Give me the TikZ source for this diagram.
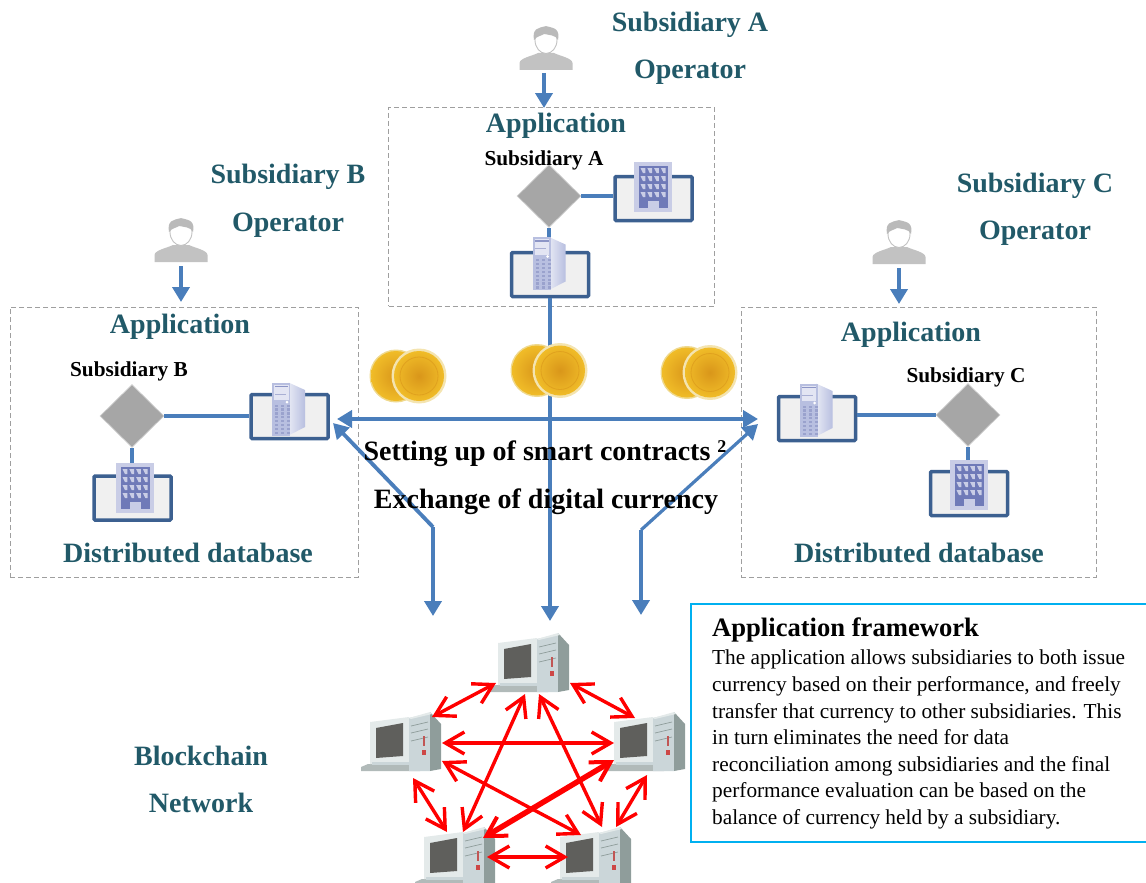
\documentclass[tikz,border=0pt]{standalone}
\usepackage{fontspec}
\setmainfont{Liberation Serif}
\usetikzlibrary{shapes.geometric,arrows.meta}
\definecolor{teal}{HTML}{215968}
\definecolor{flow}{HTML}{4A7EBB}
\definecolor{panelline}{HTML}{3C6090}
\definecolor{bldg}{HTML}{6F7AB8}
\definecolor{bldgpale}{HTML}{C9CDE6}
\definecolor{srv}{HTML}{B8BFE0}
\definecolor{infoline}{HTML}{00B0F0}
\definecolor{goldA}{HTML}{F0BC28}
\definecolor{goldB}{HTML}{D9961A}
\definecolor{goldC}{HTML}{EFD98E}
\definecolor{pcA}{HTML}{CBD6D9}
\definecolor{pcB}{HTML}{8F9D9B}
\definecolor{pcC}{HTML}{E4EAEA}
\definecolor{pcD}{HTML}{5F5F5C}
\tikzset{
  x=1pt,y=-1pt,
  head/.style={font=\bfseries\fontsize{28}{32}\selectfont,text=teal,inner sep=0,yshift=-3pt},
  sublabel/.style={font=\bfseries\fontsize{21.3}{24}\selectfont,inner sep=0,yshift=-2.5pt},
  midlabel/.style={font=\bfseries\fontsize{28}{32}\selectfont,inner sep=0,yshift=-2.5pt},
  dashbox/.style={draw=gray!75,dash pattern=on 5pt off 3pt,line width=1pt,inner sep=0},
  panel/.style={draw=panelline,line width=3.5pt,rounded corners=1pt,fill=black!6,minimum width=77pt,minimum height=44pt,inner sep=0},
  hub/.style={diamond,aspect=1,draw=black!18,line width=.7pt,fill=black!35,minimum width=64pt,minimum height=63pt,inner sep=0},
  link/.style={draw=flow,line width=4pt},
  flowtip/.style={draw=flow,line width=4pt,-{Triangle[length=15pt,width=17pt]}},
  flowtwo/.style={draw=flow,line width=4pt,{Triangle[length=15pt,width=17pt]}-{Triangle[length=15pt,width=17pt]}},
  redlink/.style={draw=red,line width=3.4pt,{Straight Barb[length=19pt,width=22pt,line width=3.4pt]}-{Straight Barb[length=19pt,width=22pt,line width=3.4pt]}},
  redthick/.style={draw=red,line width=5.5pt,{Straight Barb[length=19pt,width=22pt,line width=4pt]}-{Straight Barb[length=19pt,width=22pt,line width=4pt]}},
  person/.pic={
    \fill[black!24] (-26.5,43) -- (-26.5,36) .. controls (-26,31) and (-14,29) .. (-8,26) -- (8,26) .. controls (14,29) and (26,31) .. (26.5,36) -- (26.5,43) -- cycle;
    \draw[black!24,fill=white,line width=.9pt] (0,13) ellipse (11pt and 13.5pt);
    \fill[black!27] (-12,13) .. controls (-14,2) and (-8,0) .. (0,0) .. controls (9,0) and (14,3) .. (12,13) .. controls (10,8) and (3,8) .. (-2,7) .. controls (-5,9) and (-9,9) .. (-12,13) -- cycle;
  },
  building/.pic={
    \fill[bldgpale] (-19,-25) rectangle (19,25);
    \fill[bldg] (-14.5,-21) rectangle (14.5,21);
    \foreach \r in {0,1,2,3}\foreach \c in {0,1,2,3}{
      \fill[bldgpale] (-12.5+\c*6.8,-19+\r*8) -- ++(4.8,0) -- ++(0,5) -- ++(-2.4,0) -- cycle;
    }
    \fill[bldgpale] (-5.5,14) rectangle (5.5,21);
  },
  server/.pic={
    \shade[left color=srv!35,right color=srv] (-2,-26.5) -- (14.5,-19) -- (14.5,18) -- (-2,26.5) -- cycle;
    \fill[srv] (-18.5,-26.5) rectangle (-0.5,26.5);
    \fill[white!60!srv] (-16.5,-24.5) rectangle (-2,-9);
    \fill[bldg!80] (-16,-23.5) rectangle (-2.5,-22);
    \fill[bldg!60] (-16,-15.5) rectangle (-5,-14.5);
    \fill[white] (-3.5,-7) circle (1.5pt);
    \foreach \r in {0,...,7}\foreach \c in {0,1,2}{
      \fill[bldg!70] (-15.5+\c*6,-4.5+\r*3.9) rectangle ++(3,2.2);
    }
  },
  computer/.pic={
    \fill[pcB!70] (-11,48) -- (-4,45) -- (48,45) -- (48,52) -- (-11,52) -- cycle;
    \fill[pcC] (-2,3) -- (37,-2) -- (37,45) -- (-2,45) -- cycle;
    \fill[pcA] (0,43) rectangle (37,46);
    \fill[pcD] (4,9) -- (31,4) -- (31,37) -- (4,39) -- cycle;
    \fill[pcA] (37,-1) -- (58,-6) -- (58,52) -- (37,52) -- cycle;
    \fill[pcB] (58,-7) -- (69,5) -- (69,50) -- (58,52) -- cycle;
    \fill[pcC] (37,-1) -- (58,-7) -- (60,-5) -- (39,0) -- cycle;
    \draw[pcB,line width=.7pt] (39,7) -- (56,3) (39,14) -- (56,10) (39,22) -- (56,18);
    \fill[red!55!pcB] (50,31) rectangle (54,36);
    \fill[red!45!pcB] (51,17) rectangle (53,27);
  },
  coins/.pic={
    \fill[goldC] (0,0) circle (26.5pt);
    \shade[inner color=goldB,outer color=goldA] (0,0) circle (25pt);
    \fill[goldC!70!white] (23,0) circle (27.5pt);
    \shade[inner color=goldB,outer color=goldA] (23,0) circle (25pt);
    \draw[goldB!70!goldA,line width=.8pt] (23,0) circle (19pt);
  }
}
\begin{document}
\begin{tikzpicture}
\useasboundingbox (0,0) rectangle (1146,883);
\clip (0,0) rectangle (1146,883);
% dashed frames
\node[dashbox,minimum width=325.5pt,minimum height=199pt] (frameA) at (551.25,206.5) {};
\node[dashbox,minimum width=348pt,minimum height=270pt] (frameB) at (184,442) {};
\node[dashbox,minimum width=355pt,minimum height=270pt] (frameC) at (918.5,442) {};
% anchors of free ends
\coordinate (pa) at (544,73); \coordinate (pat) at (544,108);
\coordinate (pb) at (181,266); \coordinate (pbt) at (181,302);
\coordinate (pc) at (899,268); \coordinate (pct) at (899,304);
\coordinate (xl) at (337,419); \coordinate (xr) at (758,419);
\coordinate (dl) at (333,423); \coordinate (dle) at (433,527); \coordinate (dlb) at (433,616);
\coordinate (dr) at (758,424); \coordinate (dre) at (641,530); \coordinate (drb) at (641,615);
\coordinate (mb) at (550,621);
% panels and hubs
\node[panel] (panA1) at (653.5,198.5) {};
\node[panel] (panA2) at (550,274.5) {};
\node[hub] (hubA) at (549,196) {};
\node[panel] (panB1) at (289.5,416.5) {};
\node[panel] (panB2) at (132.5,498) {};
\node[hub] (hubB) at (132,416) {};
\node[panel] (panC1) at (817,418.5) {};
\node[panel] (panC2) at (969,493.5) {};
\node[hub] (hubC) at (968,415) {};
% connectors
\draw[link] (hubA.east) -- (hubA.east-|panA1.west);
\draw[link] (hubA.south) -- (hubA.south|-panA2.north);
\draw[link] (hubB.east) -- (hubB.east-|panB1.west);
\draw[link] (hubB.south) -- (hubB.south|-panB2.north);
\draw[link] (hubC.west) -- (hubC.west-|panC1.east);
\draw[link] (hubC.south) -- (hubC.south|-panC2.north);
\draw[flowtip] (pa) -- (pat);
\draw[flowtip] (pb) -- (pbt);
\draw[flowtip] (pc) -- (pct);
\draw[flowtip] (panA2.south) -- (mb);
\draw[flowtwo] (xl) -- (xr);
\draw[draw=flow,line width=3.8pt,-{Triangle[length=15pt,width=17pt]}] (dle) -- (dl);
\draw[flowtip] (dle) -- (dlb);
\draw[draw=flow,line width=3.2pt,-{Triangle[length=15pt,width=17pt]}] (dre) -- (dr);
\draw[flowtip] (dre) -- (drb);
% icons
\pic at (546,27) {person};
\pic at (181,219) {person};
\pic at (899,221) {person};
\pic at (653,187) {building};
\pic at (135,488) {building};
\pic at (969,485) {building};
\pic at (551,263.5) {server};
\pic at (290.5,409) {server};
\pic at (818,410) {server};
\pic at (396,376) {coins};
\pic at (537,370.5) {coins};
\pic at (687,372.5) {coins};
% labels
\node[head] (tA1) at (690,22) {Subsidiary A};
\node[head] (tA2) at (690,69) {Operator};
\node[head] (tA3) at (556,123) {Application};
\node[sublabel] (tA4) at (544,158) {Subsidiary A};
\node[head] (tB1) at (288,174) {Subsidiary B};
\node[head] (tB2) at (288,222) {Operator};
\node[head] (tB3) at (180,324) {Application};
\node[sublabel] (tB4) at (129,369) {Subsidiary B};
\node[head] (tB5) at (188,550) {Distributed database};
\node[head] (tC1) at (1035,183) {Subsidiary C};
\node[head] (tC2) at (1035,230) {Operator};
\node[head] (tC3) at (911,332) {Application};
\node[sublabel] (tC4) at (966,375) {Subsidiary C};
\node[head] (tC5) at (919,550) {Distributed database};
\node[midlabel] (m1) at (545,451) {Setting up of smart contracts \raisebox{8pt}{\fontsize{18}{20}\selectfont 2}};
\node[midlabel] (m2) at (546,499) {Exchange of digital currency};
\node[head] (n1) at (201,753) {Blockchain};
\node[head] (n2) at (201,800) {Network};
% network
\pic at (500,640) {computer};
\pic at (372,719) {computer};
\pic at (616,719) {computer};
\pic at (426,834) {computer};
\pic at (562,834) {computer};
\coordinate (a1) at (496,683); \coordinate (a2) at (432,717);
\coordinate (b1) at (570,683); \coordinate (b2) at (635,718);
\coordinate (c1) at (442,743); \coordinate (c2) at (614,743);
\coordinate (d1) at (525,694); \coordinate (d2) at (463,832);
\coordinate (e1) at (539,694); \coordinate (e2) at (602,827);
\coordinate (f1) at (442,761); \coordinate (f2) at (581,835);
\coordinate (g1) at (614,760); \coordinate (g2) at (483,838);
\coordinate (h1) at (413,778); \coordinate (h2) at (447,832);
\coordinate (i1) at (647,775); \coordinate (i2) at (616,827);
\coordinate (j1) at (487,857); \coordinate (j2) at (568,857);
\foreach \u/\v in {a1/a2,b1/b2,c1/c2,d1/d2,e1/e2,f1/f2,h1/h2,i1/i2,j1/j2}
  \draw[redlink] (\u) -- (\v);
\draw[redthick] (g1) -- (g2);
% information box
\node[draw=infoline,line width=2pt,minimum width=456pt,minimum height=238pt,inner sep=0] (info) at (919,723) {};
\node[anchor=west,inner sep=0,font=\bfseries\fontsize{26.6}{30}\selectfont] (infoT) at (712,629.5) {Application framework};
\node[anchor=north west,inner sep=0,align=left,font=\fontsize{21.3}{26.6}\selectfont] (infoB) at (712,650)
{The application allows subsidiaries to both issue\\
currency based on their performance, and freely\\
transfer that currency to other subsidiaries. This\\
in turn eliminates the need for data\\
reconciliation among subsidiaries and the final\\
performance evaluation can be based on the\\
balance of currency held by a subsidiary.};
\end{tikzpicture}
\end{document}
